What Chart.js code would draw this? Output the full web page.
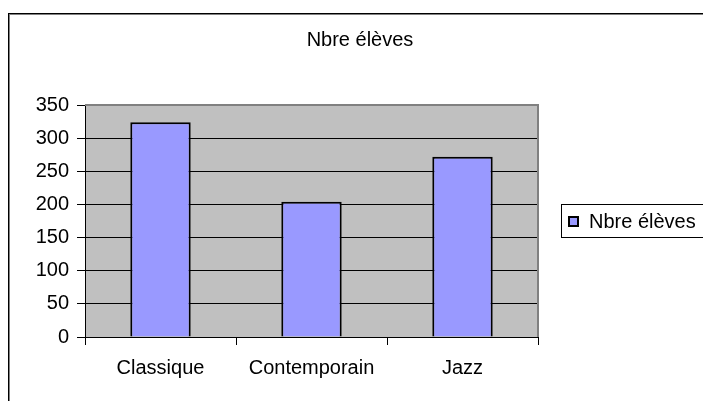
<!DOCTYPE html>
<html>
<head>
<meta charset="utf-8">
<script src="https://cdn.jsdelivr.net/npm/chart.js@4/dist/chart.umd.min.js"></script>
<style>
  html, body { margin: 0; padding: 0; background: #fff; }
  #c { display: block; }
</style>
</head>
<body>
<canvas id="c" width="703" height="401"></canvas>
<script>
// ---- data ----
const chartTitle = 'Nbre élèves';
const categories = ['Classique', 'Contemporain', 'Jazz'];
const seriesLabel = 'Nbre élèves';
const seriesValues = [324, 204, 272];
const yTicks = [0, 50, 100, 150, 200, 250, 300, 350];

// ---- style ----
const FONT = 'Liberation Sans, Arial, sans-serif';
const FSIZE = 20;
const BAR_FILL = '#9999FF';
const PLOT_BG = '#C0C0C0';

const decor = {
  id: 'decor',
  beforeDraw(chart) {
    const ctx = chart.ctx;
    const a = chart.chartArea;
    ctx.save();
    // outer frame
    ctx.fillStyle = '#000';
    ctx.fillRect(8, 13, 695, 1);
    ctx.fillRect(8, 13, 1, 388);
    ctx.fillStyle = '#808080';
    ctx.fillRect(9, 14, 694, 1);
    ctx.fillRect(9, 14, 1, 387);
    // plot background
    ctx.fillStyle = PLOT_BG;
    ctx.fillRect(a.left, a.top, a.right - a.left, a.bottom - a.top);
    ctx.restore();
  },
  beforeDatasetsDraw(chart) {
    const ctx = chart.ctx;
    const a = chart.chartArea;
    ctx.save();
    ctx.strokeStyle = '#808080';
    ctx.lineWidth = 2;
    ctx.beginPath();
    ctx.moveTo(a.left, a.top);
    ctx.lineTo(a.right, a.top);
    ctx.lineTo(a.right, a.bottom);
    ctx.stroke();
    ctx.restore();
  },
  afterDraw(chart) {
    const ctx = chart.ctx;
    ctx.save();
    // title
    ctx.fillStyle = '#000';
    ctx.font = FSIZE + 'px ' + FONT;
    ctx.textAlign = 'center';
    ctx.textBaseline = 'middle';
    ctx.fillText(chartTitle, 360, 40);
    // legend
    ctx.fillStyle = '#fff';
    ctx.fillRect(561, 204, 150, 34);
    ctx.strokeStyle = '#000';
    ctx.lineWidth = 1;
    ctx.strokeRect(561.5, 204.5, 150, 33);
    const ds = chart.data.datasets[0];
    ctx.fillStyle = ds.backgroundColor;
    ctx.fillRect(569, 217, 9, 9);
    ctx.lineWidth = 2;
    ctx.strokeRect(569, 217, 9, 9);
    ctx.fillStyle = '#000';
    ctx.textAlign = 'left';
    ctx.fillText(ds.label, 589, 222);
    ctx.restore();
  }
};

new Chart(document.getElementById('c'), {
  type: 'bar',
  data: {
    labels: categories,
    datasets: [{
      label: seriesLabel,
      data: seriesValues,
      backgroundColor: BAR_FILL,
      borderColor: '#000',
      borderWidth: 2,
      barPercentage: 0.4,
      categoryPercentage: 1.0
    }]
  },
  options: {
    responsive: false,
    animation: false,
    devicePixelRatio: 1,
    layout: { padding: { left: 0, right: 165, top: 105, bottom: 0 } },
    plugins: {
      legend: { display: false },
      title: { display: false },
      tooltip: { enabled: false }
    },
    scales: {
      x: {
        offset: true,
        grid: { offset: true, drawOnChartArea: false, drawTicks: true, tickLength: 8, tickColor: '#000' },
        border: { display: true, color: '#000', width: 1 },
        ticks: { color: '#000', font: { family: FONT, size: FSIZE }, padding: 11, maxRotation: 0 },
        afterFit(s) { s.height = 64; }
      },
      y: {
        min: 0,
        max: 350,
        afterBuildTicks(s) { s.ticks = yTicks.map(v => ({ value: v })); },
        grid: {
          color: ctx => (ctx.tick && ctx.tick.value === 350) ? '#808080' : '#000',
          tickColor: '#000',
          tickLength: 8,
          lineWidth: 1
        },
        border: { display: true, color: '#000', width: 1 },
        ticks: { color: '#000', font: { family: FONT, size: FSIZE }, padding: 8 },
        afterFit(s) { s.width = 85; }
      }
    }
  },
  plugins: [decor]
});
</script>
</body>
</html>
